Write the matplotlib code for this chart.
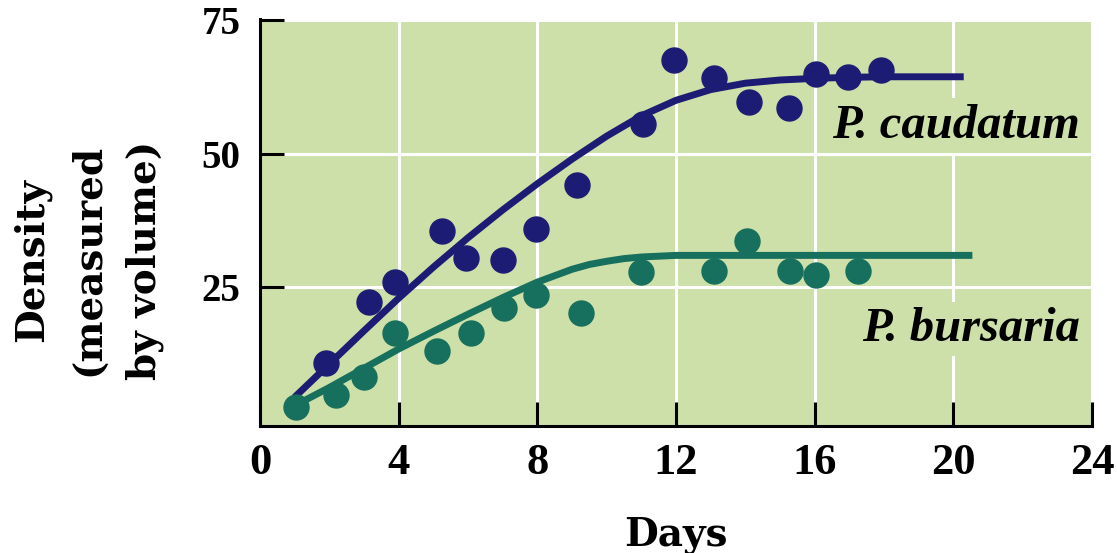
import matplotlib.pyplot as plt

# observed points
caud_days = [1.9, 3.15, 3.9, 5.25, 5.95, 7.0, 7.95, 9.15, 11.05, 11.95, 13.1, 14.1, 15.25, 16.05, 16.95, 17.9]
caud_dens = [10.8, 22.2, 26.1, 35.5, 30.5, 30.1, 36.0, 44.1, 55.5, 67.5, 64.1, 59.7, 58.5, 65.0, 64.4, 65.6]

burs_days = [1.05, 2.2, 3.0, 3.9, 5.1, 6.1, 7.05, 7.95, 9.25, 11.0, 13.1, 14.05, 15.3, 16.05, 17.25]
burs_dens = [2.7, 4.8, 8.2, 16.5, 13.2, 16.4, 21.2, 23.6, 20.3, 27.9, 28.0, 33.7, 28.0, 27.4, 28.0]

# fitted curves
caud_fit_days = [1.0, 2, 3, 4, 5, 6, 7, 8, 9, 10, 11, 12, 13, 14, 15, 16, 17, 18, 19, 20.3]
caud_fit = [4.5, 10.7, 16.9, 23.0, 28.8, 34.3, 39.5, 44.4, 49.0, 53.3, 57.1, 60.0, 62.0, 63.2, 63.8, 64.1, 64.3, 64.4, 64.4, 64.4]

burs_fit_days = [1.0, 2, 3, 4, 5, 6, 7, 8, 9, 9.5, 10, 10.5, 11, 12, 13, 14, 20.55]
burs_fit = [2.9, 6.3, 9.9, 13.5, 16.8, 20.0, 23.1, 26.0, 28.4, 29.3, 29.9, 30.4, 30.7, 31.0, 31.0, 31.0, 31.0]

x_ticks = [0, 4, 8, 12, 16, 20, 24]
y_ticks = [25, 50, 75]

bg = "#cde0a9"
navy = "#1d1c74"
teal = "#176f5d"

plt.rcParams["font.family"] = ["Liberation Serif", "DejaVu Serif"]
plt.rcParams["font.weight"] = "bold"

fig = plt.figure(figsize=(11.17, 5.53), dpi=100)
ax = fig.add_axes([0.2328, 0.2297, 0.9776 - 0.2328, 0.9656 - 0.2297])
ax.set_facecolor(bg)

ax.plot(caud_fit_days, caud_fit, color=navy, linewidth=5, solid_capstyle="butt",
        solid_joinstyle="round", zorder=3)
ax.plot(burs_fit_days, burs_fit, color=teal, linewidth=5, solid_capstyle="butt",
        solid_joinstyle="round", zorder=3)
ax.plot(caud_days, caud_dens, "o", color=navy, markersize=18, zorder=4)
ax.plot(burs_days, burs_dens, "o", color=teal, markersize=18, zorder=5)

ax.set_xlim(0.07, 24)
ax.set_ylim(-0.9, 75.2)
ax.set_xticks(x_ticks)
ax.set_yticks(y_ticks)

ax.grid(True, color="white", linewidth=2.2, zorder=1)
ax.set_axisbelow(True)

for s in ["top", "right"]:
    ax.spines[s].set_visible(False)
for s in ["left", "bottom"]:
    ax.spines[s].set_linewidth(2.2)
    ax.spines[s].set_color("black")

ax.tick_params(axis="both", direction="in", length=17, width=2.2, color="black")
ax.tick_params(axis="x", labelsize=32, pad=12)
ax.tick_params(axis="y", labelsize=28, pad=14)
for lab in ax.get_xticklabels() + ax.get_yticklabels():
    lab.set_fontweight("bold")

lbl = dict(fontsize=35, fontweight="bold", fontstyle="italic", ha="right", va="baseline",
           zorder=6, bbox=dict(facecolor=bg, edgecolor="none", pad=4))
ax.text(23.65, 53.0, "P. caudatum", **lbl)
ax.text(23.65, 15.0, "P. bursaria", **lbl)

fig.text(0.605, 0.014, "Days", fontsize=28, fontweight="bold", family="DejaVu Serif",
         ha="center", va="baseline")
fig.text(0.079, 0.53, "Density\n(measured\nby volume)", fontsize=28, fontweight="bold",
         family="DejaVu Serif", rotation=90, ha="center", va="center",
         multialignment="center", linespacing=1.62)

fig.savefig("out.png", dpi=100)
